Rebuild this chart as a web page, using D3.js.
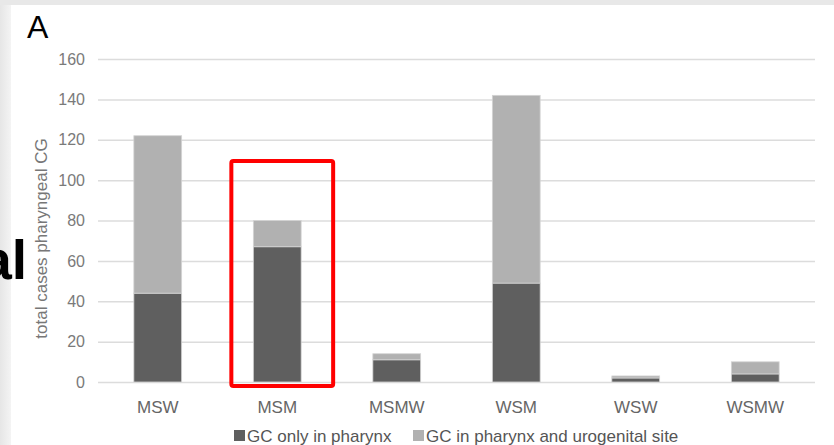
<!DOCTYPE html>
<html><head><meta charset="utf-8">
<script src="https://cdn.jsdelivr.net/npm/d3@7/dist/d3.min.js"></script>
<style>html,body{margin:0;padding:0;background:#fff;}</style>
</head><body>
<svg id="c" width="834" height="445"></svg>
<script>
const categories = ["MSW", "MSM", "MSMW", "WSM", "WSW", "WSMW"];
const onlyPharynx = [44, 67, 11, 49, 2, 4];
const pharynxAndUro = [78, 13, 3, 93, 1, 6];
const seriesNames = ["GC only in pharynx", "GC in pharynx and urogenital site"];
const yTicks = [0, 20, 40, 60, 80, 100, 120, 140, 160];
const highlighted = "MSM";

const svg = d3.select("#c");
const W = 834, H = 445;
const m = {left: 98, right: 19, top: 59, bottom: 63};
const FONT = "Liberation Sans, Arial, sans-serif";

// page background / frame
const defs = svg.append("defs");
const g1 = defs.append("linearGradient").attr("id","lg").attr("x1","0").attr("x2","1");
g1.append("stop").attr("offset","0").attr("stop-color","#e6e6e6");
g1.append("stop").attr("offset","1").attr("stop-color","#f4f4f4");
svg.append("rect").attr("x",0).attr("y",0).attr("width",W).attr("height",H).attr("fill","#fff");
svg.append("rect").attr("x",0).attr("y",0).attr("width",11).attr("height",H).attr("fill","url(#lg)");
svg.append("rect").attr("x",0).attr("y",0).attr("width",W).attr("height",5).attr("fill","#e8e8e8");

const x = d3.scaleBand().domain(categories).range([m.left, W - m.right]).paddingInner(0.6).paddingOuter(0.3);
const y = d3.scaleLinear().domain([0, 160]).range([H - m.bottom, m.top]);

// gridlines
const yAxis = d3.axisLeft(y).tickValues(yTicks).tickSize(-(W - m.left - m.right)).tickPadding(13);
const ga = svg.append("g").attr("transform", `translate(${m.left},0)`).call(yAxis);
ga.select(".domain").remove();
ga.selectAll(".tick line").attr("stroke", "#dcdcdc").attr("stroke-width", 1.5);
ga.selectAll(".tick text").attr("fill", "#7a7a7a").style("font-family", FONT).style("font-size", "16px");

// stacked data
const data = categories.map((c, i) => ({cat: c, a: onlyPharynx[i], b: pharynxAndUro[i]}));
const stack = d3.stack().keys(["a", "b"])(data);
const colors = ["#5f5f5f", "#b1b1b1"];
svg.append("g").selectAll("g").data(stack).join("g")
  .attr("fill", (d, i) => colors[i])
  .selectAll("rect").data(d => d).join("rect")
  .attr("x", d => x(d.data.cat))
  .attr("width", x.bandwidth())
  .attr("y", d => y(d[1]))
  .attr("height", d => y(d[0]) - y(d[1]))
  .attr("stroke", "#d4d4d4").attr("stroke-width", 0.8);

// x axis labels
const xAxis = d3.axisBottom(x).tickSize(0).tickPadding(19);
const gx = svg.append("g").attr("transform", `translate(0,${H - m.bottom})`).call(xAxis);
gx.select(".domain").remove();
gx.selectAll(".tick text").attr("fill", "#666").style("font-family", FONT).style("font-size", "17px");

// y title
svg.append("text").attr("transform", `translate(47,${(m.top + H - m.bottom) / 2 + 18}) rotate(-90)`)
  .attr("text-anchor", "middle").attr("fill", "#777")
  .style("font-family", FONT).style("font-size", "17px")
  .text("total cases pharyngeal CG");

// legend
const lg = svg.append("g").style("font-family", FONT).style("font-size", "17px");
const legX = [234, 413];
seriesNames.forEach((n, i) => {
  lg.append("rect").attr("x", legX[i]).attr("y", 430).attr("width", 11).attr("height", 11).attr("fill", colors[i]);
  lg.append("text").attr("x", legX[i] + 13).attr("y", 442).attr("fill", "#555").text(n);
});

// panel letter
svg.append("text").attr("x", 27).attr("y", 38).attr("fill", "#000")
  .style("font-family", FONT).style("font-size", "32px").text("A");

// cropped bold text at left edge
svg.append("text").attr("x", 27).attr("y", 279).attr("text-anchor", "end").attr("fill", "#000")
  .style("font-family", FONT).style("font-weight", "bold").style("font-size", "55px").text("al");

// highlight box
const hx = x(highlighted);
svg.append("rect").attr("x", hx - 22).attr("y", 161).attr("width", x.bandwidth() + 54).attr("height", 225)
  .attr("rx", 2).attr("fill", "none").attr("stroke", "#ff0000").attr("stroke-width", 4);
</script>
</body></html>
